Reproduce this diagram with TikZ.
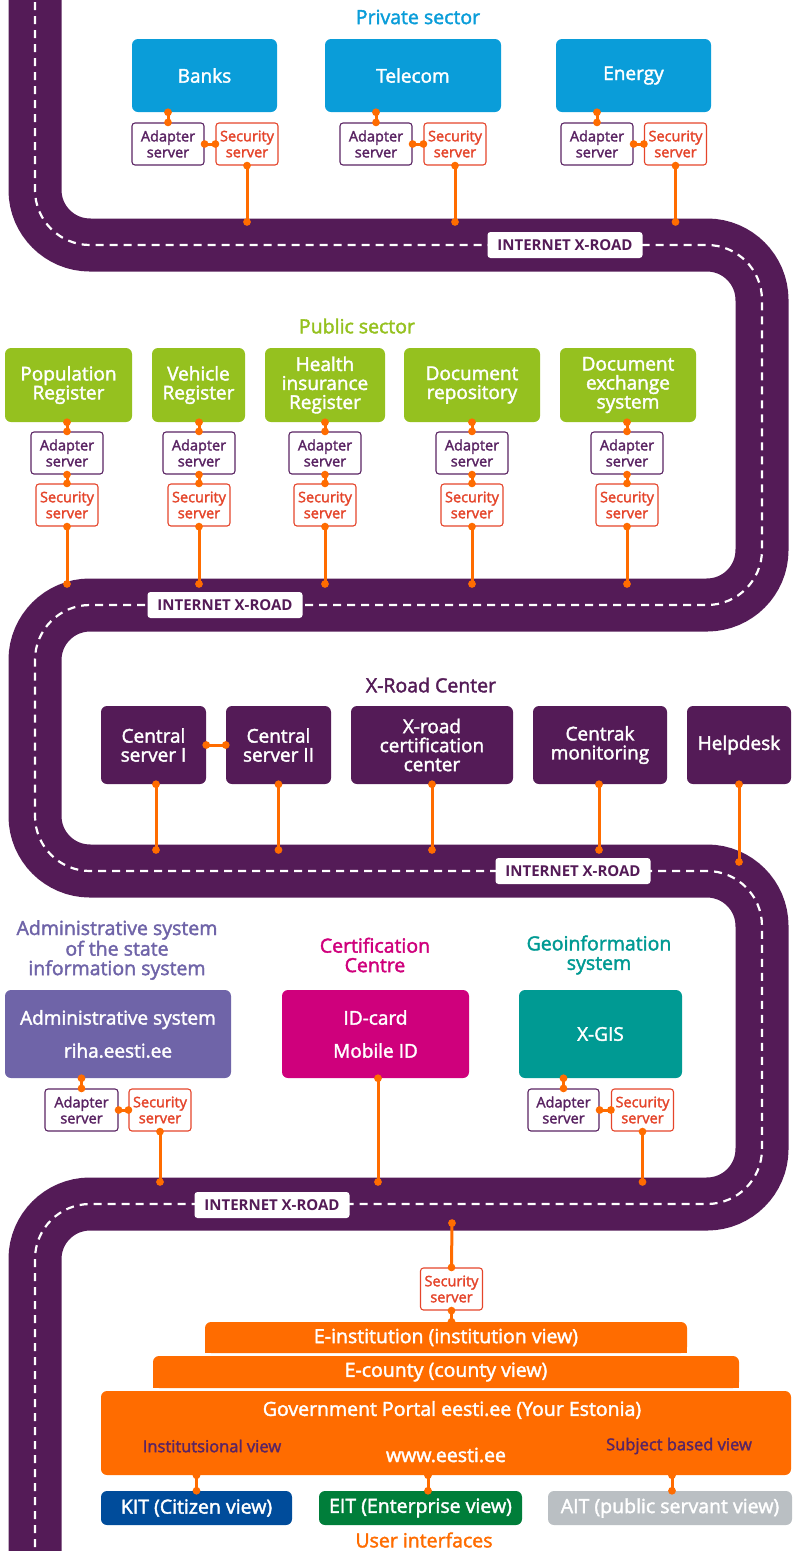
\documentclass[tikz,border=0pt]{standalone}
\usepackage{fontspec}
\setmainfont{Open Sans}
\newfontfamily\sbf{Open Sans}[FakeBold=2]
\usetikzlibrary{arrows.meta}
\definecolor{road}{HTML}{541B57}
\definecolor{lnk}{HTML}{FF6C00}
\definecolor{adc}{HTML}{5A2463}
\definecolor{secc}{HTML}{E5452B}
\definecolor{privc}{HTML}{0A9DD9}
\definecolor{pubc}{HTML}{95C11F}
\definecolor{admc}{HTML}{6F64A8}
\definecolor{magc}{HTML}{CF007C}
\definecolor{tealc}{HTML}{009A93}
\definecolor{kitc}{HTML}{004C9B}
\definecolor{eitc}{HTML}{007E3A}
\definecolor{aitc}{HTML}{BABFC3}
\tikzset{
  bigbox/.style={rounded corners=6pt, inner sep=0pt, align=center, text=white, font=\sbf\fontsize{19}{19}\selectfont},
  adbox/.style={draw=adc, fill=white, line width=1.1pt, rounded corners=3pt, minimum width=72pt, minimum height=42pt, inner sep=0pt, align=center, text=adc, font=\sbf\fontsize{14.5}{16}\selectfont},
  secbox/.style={adbox, draw=secc, text=secc, minimum width=62pt},
  link/.style={draw=lnk, line width=3pt, {Circle[length=7.5pt]}-{Circle[length=7.5pt]}, shorten <=-3.7pt, shorten >=-3.7pt},
  roadlabel/.style={fill=white, rounded corners=3pt, minimum width=155pt, minimum height=26pt, inner sep=0pt, text=road, font=\bfseries\fontsize{15}{15}\selectfont},
  sectitle/.style={align=center, inner sep=0pt, font=\sbf\fontsize{19.5}{19.5}\selectfont},
  roadline/.style={draw=road, line width=53pt, rounded corners=55pt},
  roaddash/.style={draw=white, line width=2.2pt, dash pattern=on 8pt off 6pt, rounded corners=55pt},
  orbox/.style={fill=lnk, rounded corners=6pt, inner sep=0pt, text=white, font=\sbf\fontsize{19.5}{19.5}\selectfont},
  uibox/.style={rounded corners=6pt, inner sep=0pt, minimum height=34pt, text=white, font=\sbf\fontsize{19.5}{19.5}\selectfont},
  subtxt/.style={inner sep=0pt, text=adc, font=\sbf\fontsize{16.5}{17}\selectfont},
}
\begin{document}
\begin{tikzpicture}[x=1pt,y=-1pt]
\useasboundingbox (0,0) rectangle (794,1551);
% road
\draw[roadline] (35,-40) -- (35,245) -- (762,245) -- (762,605) -- (35,605) -- (35,871) -- (762,871) -- (762,1204) -- (35,1204) -- (35,1600);
\draw[roaddash] (35,-40) -- (35,245) -- (762,245) -- (762,605) -- (35,605) -- (35,871) -- (762,871) -- (762,1204) -- (35,1204) -- (35,1600);
\coordinate (rA) at (0,222);
\coordinate (rB) at (0,584);
\coordinate (rC) at (0,850);
\coordinate (rD) at (0,1182);
\coordinate (rhelp) at (739,862);
\coordinate (rE) at (452,1223);
\node[roadlabel] (lab1) at (565,245) {INTERNET X-ROAD};
\node[roadlabel] (lab2) at (225,605) {INTERNET X-ROAD};
\node[roadlabel] (lab3) at (573,871) {INTERNET X-ROAD};
\node[roadlabel] (lab4) at (272,1205) {INTERNET X-ROAD};

% Private sector
\node[sectitle, text=privc] (tpriv) at (418,17) {Private sector};
\node[bigbox, fill=privc, minimum width=145pt, minimum height=73pt] (banks) at (204.5,75.5) {Banks};
\node[bigbox, fill=privc, minimum width=176pt, minimum height=73pt] (tele) at (413,75.5) {Telecom};
\node[bigbox, fill=privc, minimum width=155pt, minimum height=73pt] (ener) at (633.5,75.5) {Energy};
\node[adbox] (a1) at (168,144) {Adapter\\server};
\node[secbox] (s1) at (247,144) {Security\\server};
\node[adbox] (a2) at (376,144) {Adapter\\server};
\node[secbox] (s2) at (455,144) {Security\\server};
\node[adbox] (a3) at (597,144) {Adapter\\server};
\node[secbox] (s3) at (675.5,144) {Security\\server};
\foreach \b/\a/\s in {banks/a1/s1, tele/a2/s2, ener/a3/s3}{
  \draw[link] (\a.north |- \b.south) -- (\a.north);
  \draw[link] (\a.east) -- (\s.west);
  \draw[link] (\s.south) -- (\s.south |- rA);
}

% Public sector
\node[sectitle, text=pubc] (tpub) at (357,326) {Public sector};
\node[bigbox, fill=pubc, minimum width=127pt, minimum height=74pt] (pop) at (68.5,385) {Population\\Register};
\node[bigbox, fill=pubc, minimum width=93pt, minimum height=74pt] (veh) at (198.5,385) {Vehicle\\Register};
\node[bigbox, fill=pubc, minimum width=120pt, minimum height=74pt] (hea) at (325,385) {Health\\insurance\\Register};
\node[bigbox, fill=pubc, minimum width=136pt, minimum height=74pt] (drep) at (472,385) {Document\\repository};
\node[bigbox, fill=pubc, minimum width=136pt, minimum height=74pt] (dex) at (628,385) {Document\\exchange\\system};
\foreach \b/\x/\i in {pop/67/4, veh/199/5, hea/325/6, drep/472/7, dex/627/8}{
  \node[adbox] (a\i) at (\x,453) {Adapter\\server};
  \node[secbox] (s\i) at (\x,505) {Security\\server};
  \draw[link] (a\i.north |- \b.south) -- (a\i.north);
  \draw[link] (a\i.south) -- (s\i.north);
  \draw[link] (s\i.south) -- (s\i.south |- rB);
}

% X-Road Center
\node[sectitle, text=road] (tcen) at (431,685) {X-Road Center};
\node[bigbox, fill=road, minimum width=105pt, minimum height=78pt] (cs1) at (153.5,745) {Central\\server I};
\node[bigbox, fill=road, minimum width=105pt, minimum height=78pt] (cs2) at (278.5,745) {Central\\server II};
\node[bigbox, fill=road, minimum width=162pt, minimum height=78pt] (cert) at (432,745) {X-road\\certification\\center};
\node[bigbox, fill=road, minimum width=134pt, minimum height=78pt] (mon) at (600,745) {Centrak\\monitoring};
\node[bigbox, fill=road, minimum width=104pt, minimum height=78pt] (help) at (739,745) {Helpdesk};
\draw[link] (cs1.east) -- (cs2.west);
\draw[link] ([xshift=2.5pt]cs1.south) -- ([xshift=2.5pt]cs1.south |- rC);
\draw[link] (cs2.south) -- (cs2.south |- rC);
\draw[link] (cert.south) -- (cert.south |- rC);
\draw[link] ([xshift=-1pt]mon.south) -- ([xshift=-1pt]mon.south |- rC);
\draw[link] (help.south) -- (rhelp);

% Administrative / Certification / Geoinformation
\node[sectitle, text=admc] (tadm) at (117,950) {Administrative system\\of the state\\information system};
\node[sectitle, text=magc] (tcer) at (375,955) {Certification\\Centre};
\node[sectitle, text=tealc] (tgeo) at (599,955) {Geoinformation\\system};
\node[bigbox, fill=admc, minimum width=226pt, minimum height=88pt] (adm) at (118,1034) {Administrative system\\[14pt]riha.eesti.ee};
\node[bigbox, fill=magc, minimum width=187pt, minimum height=88pt] (idc) at (375.5,1034) {ID-card\\[14pt]Mobile ID};
\node[bigbox, fill=tealc, minimum width=163pt, minimum height=88pt] (gis) at (600.5,1034) {X-GIS};
\node[adbox, minimum width=73pt] (a9) at (81.5,1110) {Adapter\\server};
\node[secbox] (s9) at (160,1110) {Security\\server};
\node[adbox, minimum width=71pt] (a10) at (563.5,1110) {Adapter\\server};
\node[secbox] (s10) at (642.5,1110) {Security\\server};
\draw[link] (a9.north |- adm.south) -- (a9.north);
\draw[link] (a9.east) -- (s9.west);
\draw[link] (s9.south) -- (s9.south |- rD);
\draw[link] ([xshift=2.5pt]idc.south) -- ([xshift=2.5pt]idc.south |- rD);
\draw[link] (a10.north |- gis.south) -- (a10.north);
\draw[link] (a10.east) -- (s10.west);
\draw[link] (s10.south) -- (s10.south |- rD);

% User interfaces
\node[secbox] (s11) at (451.5,1289) {Security\\server};
\fill[lnk] (205,1338) rectangle (687,1353);
\node[orbox, minimum width=482pt, minimum height=31pt] (einst) at (446,1337.5) {E-institution (institution view)};
\fill[lnk] (153,1372) rectangle (739,1388);
\node[orbox, minimum width=586pt, minimum height=32pt] (ecty) at (446,1372) {E-county (county view)};
\node[orbox, minimum width=690pt, minimum height=84pt] (portal) at (446,1433) {};
\node[inner sep=0pt, text=white, font=\sbf\fontsize{19.5}{19.5}\selectfont] (gp) at (452,1410) {Government Portal eesti.ee (Your Estonia)};
\node[subtxt] (iv) at (212,1446) {Institutsional view};
\node[inner sep=0pt, text=white, font=\sbf\fontsize{19.5}{19.5}\selectfont] (www) at (446,1455) {www.eesti.ee};
\node[subtxt] (sv) at (679,1446) {Subject based view};
\draw[link] (rE) -- (s11.north);
\draw[link] (s11.south) -- (s11.south |- einst.north);
\node[uibox, fill=kitc, minimum width=191pt] (kit) at (196.5,1508) {KIT (Citizen view)};
\node[uibox, fill=eitc, minimum width=203pt] (eit) at (420.5,1508) {EIT (Enterprise view)};
\node[uibox, fill=aitc, minimum width=244pt] (ait) at (670,1508) {AIT (public servant view)};
\draw[link] (kit.north |- portal.south) -- (kit.north);
\draw[link] ([xshift=7.5pt]eit.north |- portal.south) -- ([xshift=7.5pt]eit.north);
\draw[link] ([xshift=2pt]ait.north |- portal.south) -- ([xshift=2pt]ait.north);
\node[sectitle, text=lnk] (tui) at (424,1540) {User interfaces};
\end{tikzpicture}
\end{document}
